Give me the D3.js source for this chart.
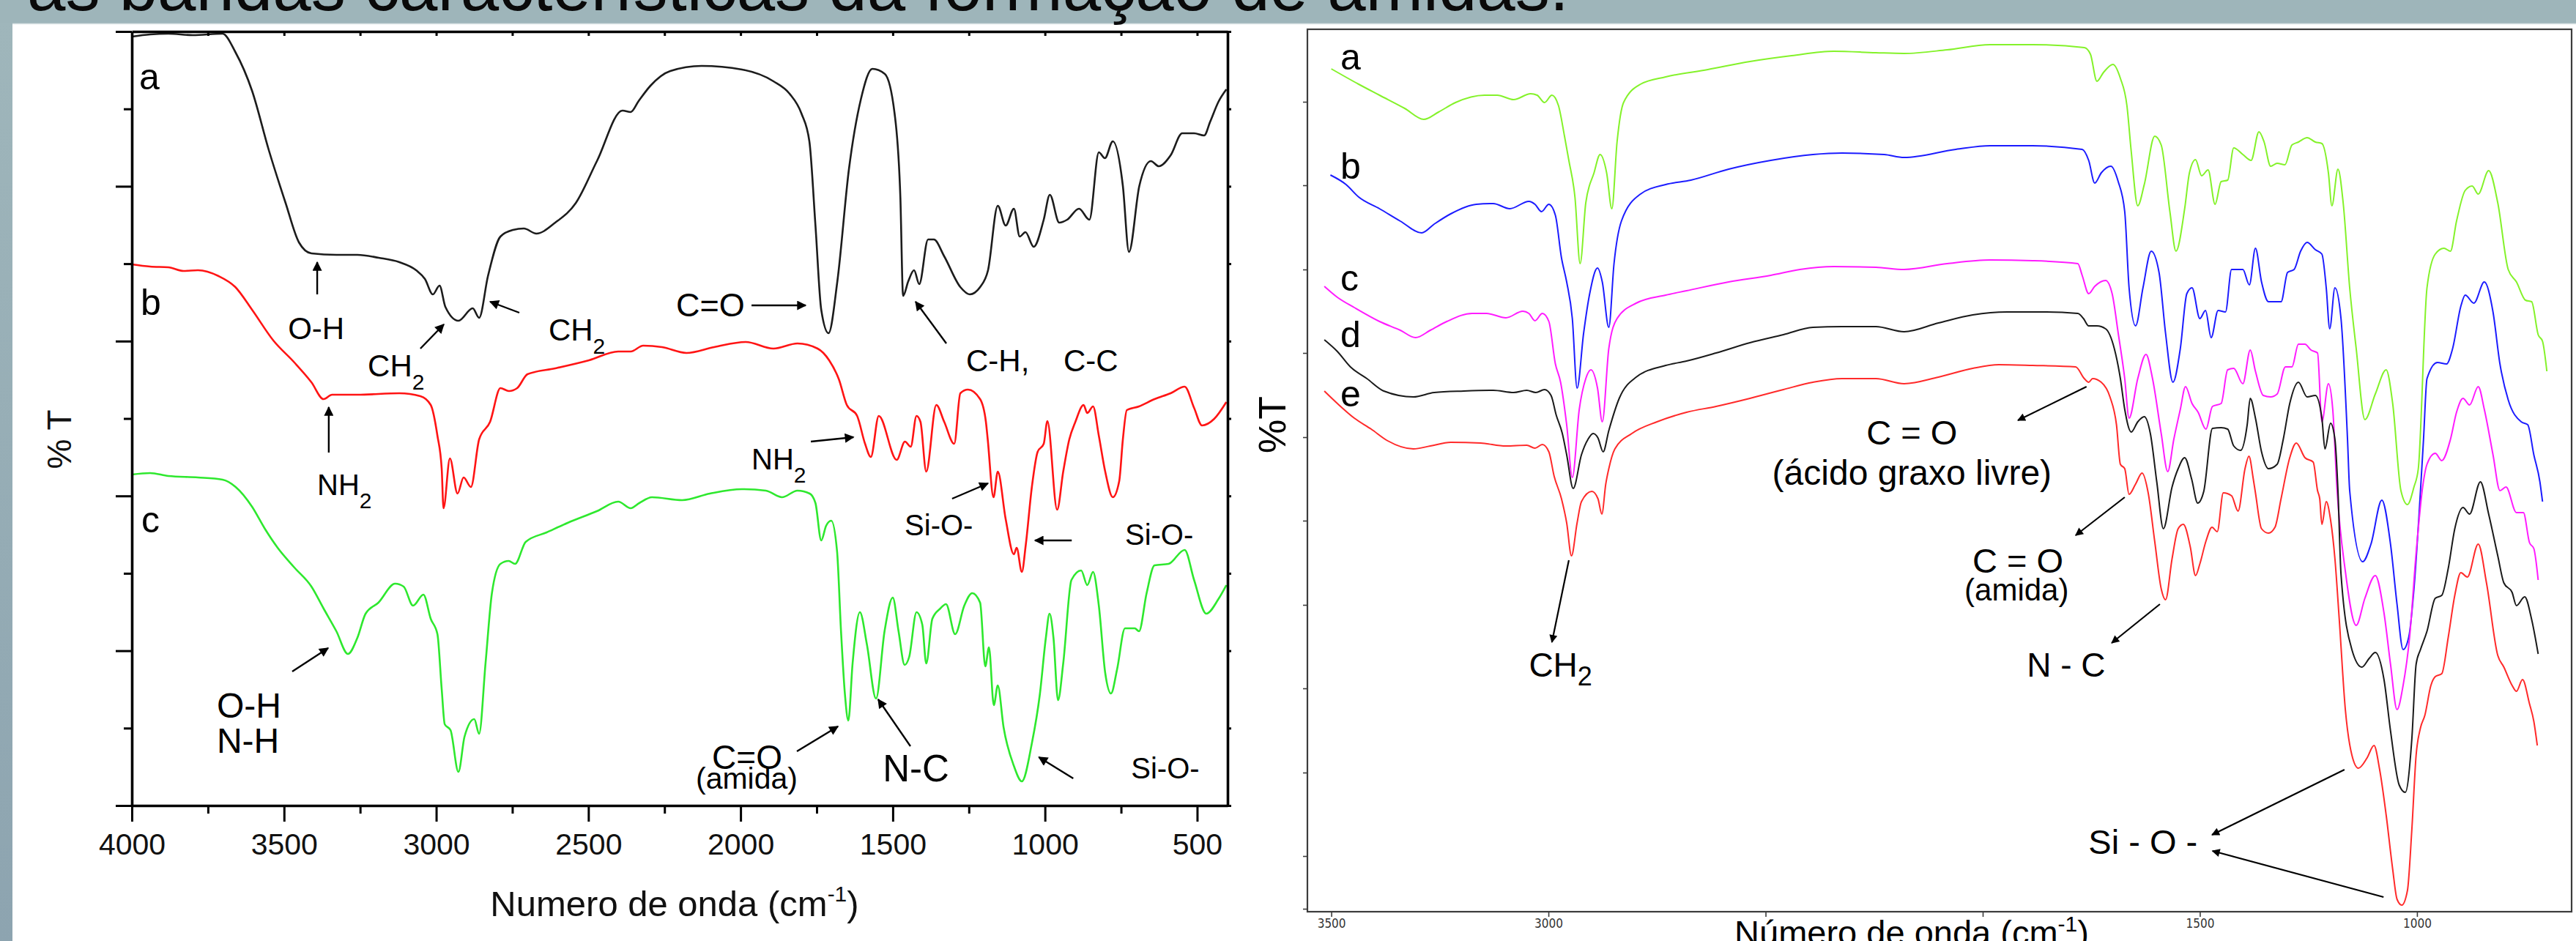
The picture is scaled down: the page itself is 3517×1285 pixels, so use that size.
<!DOCTYPE html>
<html>
<head>
<meta charset="utf-8">
<script src="https://cdn.jsdelivr.net/npm/d3@7"></script>
<style>
html, body { margin: 0; padding: 0; background: #9eb5ba; }
svg { display: block; }
text { font-family: "Liberation Sans", Arial, Helvetica, sans-serif; }
</style>
</head>
<body>
<svg id="fig" width="3517" height="1285" viewBox="0 0 3517 1285"></svg>
<script>
// whole slide
const totalWidth = 3517;
const totalHeight = 1285;

const titleText = "as bandas características da formação de amidas.";

// ---------- left figure (a, b, c) ----------
const leftTickLabels = [4000, 3500, 3000, 2500, 2000, 1500, 1000, 500];
const leftMinorTicks = [3750, 3250, 2750, 2250, 1750, 1250, 750];
const leftTopTicks = [3750, 3500, 3250, 3000, 2750, 2500, 2250, 2000, 1750, 1500, 1250, 1000, 750, 500];
const leftYMajor = [0, 21.14, 42.28, 63.42, 84.56, 105.7];
const leftYMinor = [10.57, 31.71, 52.85, 73.99, 95.13];

// [wavenumber, %T]
const leftA = [[4000,105.0],[3940,105.3],[3880,105.4],[3800,105.2],[3702,105.4],[3660,102.9],[3605,97.6],[3550,89.5],[3495,82.3],[3451,76.9],[3410,75.4],[3328,75.2],[3259,75.2],[3189,74.8],[3121,74.2],[3066,73.1],[3037,71.9],[3011,69.8],[2989,71.0],[2970,68.1],[2927,66.2],[2880,67.9],[2859,66.6],[2830,72.3],[2789,77.7],[2748,78.6],[2712,78.8],[2671,78.1],[2609,79.6],[2541,82.3],[2472,88.0],[2388,94.9],[2361,94.7],[2335,96.2],[2296,98.3],[2231,100.3],[2128,101.0],[1995,100.5],[1892,98.9],[1839,97.2],[1800,94.5],[1774,90.7],[1754,79.2],[1735,67.7],[1711,64.5],[1682,71.6],[1644,86.9],[1605,96.4],[1567,100.6],[1526,99.9],[1494,94.5],[1475,83.0],[1466,69.6],[1449,71.6],[1430,73.1],[1413,71.2],[1384,77.3],[1365,77.3],[1331,75.0],[1278,70.8],[1247,69.8],[1213,70.8],[1187,73.1],[1155,81.9],[1129,79.2],[1102,81.5],[1083,77.7],[1064,78.3],[1037,76.3],[1004,80.0],[984,83.4],[953,79.6],[927,80.0],[888,81.5],[854,80.0],[823,89.2],[803,88.4],[777,90.7],[744,84.6],[724,75.6],[690,84.6],[652,88.0],[626,87.3],[587,88.8],[549,91.8],[510,91.8],[477,91.5],[457,93.4],[430,96.1],[404,97.8]];
const leftB = [[4000,73.9],[3940,73.6],[3880,73.5],[3830,73.0],[3783,73.1],[3715,72.3],[3660,70.8],[3605,67.7],[3535,63.5],[3466,60.5],[3410,57.8],[3370,55.5],[3342,56.1],[3259,56.1],[3121,56.3],[3052,55.9],[3018,54.7],[2996,50.5],[2982,46.0],[2976,40.6],[2955,47.4],[2930,42.6],[2910,44.8],[2886,43.5],[2859,50.0],[2823,52.4],[2789,57.0],[2761,56.6],[2734,57.0],[2700,58.9],[2609,59.7],[2498,60.8],[2402,62.0],[2361,62.0],[2320,62.8],[2258,62.6],[2178,61.8],[2087,62.6],[1983,63.3],[1892,62.4],[1813,63.1],[1747,62.4],[1709,60.8],[1677,58.2],[1651,54.7],[1617,53.2],[1591,49.4],[1572,47.6],[1546,53.2],[1487,47.2],[1460,49.7],[1441,49.0],[1422,53.2],[1409,52.4],[1390,45.6],[1357,54.7],[1331,52.4],[1298,49.4],[1278,56.3],[1253,56.8],[1213,55.5],[1194,52.4],[1188,50.0],[1169,42.1],[1155,45.6],[1129,39.1],[1102,34.3],[1093,35.2],[1076,31.9],[1063,35.6],[1043,43.5],[1024,48.3],[1004,49.4],[992,52.5],[960,40.4],[940,45.6],[920,50.0],[900,52.4],[873,54.7],[861,53.6],[842,54.5],[823,50.5],[802,45.6],[777,42.1],[756,44.3],[744,50.0],[731,54.0],[691,54.5],[640,55.5],[587,56.3],[541,57.2],[510,54.3],[484,51.9],[444,52.8],[404,55.1]];
const leftC = [[4000,45.2],[3940,45.4],[3880,45.0],[3783,44.8],[3702,44.5],[3659,43.5],[3605,40.8],[3563,37.8],[3521,35.2],[3466,32.5],[3410,29.9],[3370,26.9],[3328,23.8],[3290,20.7],[3259,22.9],[3232,26.2],[3190,27.7],[3135,30.3],[3107,29.9],[3076,27.3],[3042,28.8],[3018,25.5],[2996,23.4],[2982,15.9],[2972,11.1],[2953,10.3],[2927,4.6],[2907,9.4],[2875,11.8],[2859,9.8],[2838,19.4],[2817,29.0],[2789,33.0],[2762,33.4],[2741,33.0],[2706,36.0],[2637,37.3],[2568,38.6],[2472,40.2],[2402,41.5],[2361,40.6],[2333,41.3],[2291,42.1],[2192,41.7],[2101,42.6],[1996,43.2],[1917,43.0],[1864,42.1],[1813,43.0],[1773,42.6],[1754,41.3],[1735,36.2],[1719,38.2],[1702,38.9],[1683,34.7],[1670,23.8],[1657,15.1],[1646,11.6],[1632,19.4],[1608,26.4],[1585,22.0],[1555,14.6],[1527,23.8],[1500,28.4],[1481,23.8],[1461,19.2],[1446,20.3],[1422,26.4],[1403,24.7],[1390,19.4],[1370,25.5],[1344,26.9],[1325,27.5],[1295,23.4],[1265,27.3],[1239,29.0],[1213,27.7],[1196,19.0],[1184,21.6],[1168,13.7],[1155,16.4],[1136,10.7],[1102,5.4],[1076,3.3],[1043,8.5],[1017,15.1],[997,22.9],[985,26.2],[972,22.9],[957,14.4],[940,19.4],[913,30.8],[881,32.1],[861,30.1],[842,31.9],[823,27.3],[802,18.1],[783,15.3],[763,18.6],[737,24.2],[705,24.2],[691,23.8],[666,29.0],[640,32.8],[594,33.0],[541,34.9],[510,30.8],[470,26.2],[430,28.2],[404,30.1]];

// labels: position in data units (baseline / start)
const leftLabels = [
    {text: "a", wn: 3976, v: 97.8, size: 50},
    {text: "b", wn: 3971, v: 67.0, size: 50},
    {text: "c", wn: 3969, v: 37.3, size: 50},
    {text: "O-H", wn: 3487, v: 63.7, size: 42},
    {text: "CH", sub: "2", wn: 3225, v: 58.6, size: 42},
    {text: "CH", sub: "2", wn: 2631, v: 63.5, size: 42},
    {text: "NH", sub: "2", wn: 3391, v: 42.4, size: 40},
    {text: "O-H", wn: 3721, v: 12.0, size: 48},
    {text: "N-H", wn: 3721, v: 7.2, size: 48},
    {text: "C=O", wn: 2212, v: 66.8, size: 45},
    {text: "C-H,", wn: 1259, v: 59.3, size: 42},
    {text: "C-C", wn: 939, v: 59.3, size: 42},
    {text: "NH", sub: "2", wn: 1964, v: 45.9, size: 40},
    {text: "Si-O-", wn: 1461, v: 36.9, size: 40},
    {text: "Si-O-", wn: 737, v: 35.6, size: 40},
    {text: "C=O", wn: 2094, v: 5.0, size: 46},
    {text: "(amida)", wn: 2147, v: 2.3, size: 41},
    {text: "N-C", wn: 1533, v: 3.3, size: 51},
    {text: "Si-O-", wn: 717, v: 3.7, size: 40}
];
// arrows [wn from, %T from, wn to, %T to]
const leftArrows = [
    [3391, 69.8, 3391, 74.2],
    [3052, 62.4, 2975, 65.7],
    [2727, 67.3, 2823, 68.8],
    [3353, 48.2, 3353, 54.4],
    [3473, 18.3, 3355, 21.5],
    [1964, 68.3, 1786, 68.3],
    [1324, 63.1, 1425, 68.8],
    [1769, 49.7, 1629, 50.3],
    [1305, 41.9, 1187, 44.0],
    [912, 36.2, 1033, 36.2],
    [1815, 7.4, 1680, 10.8],
    [1442, 8.1, 1548, 14.5],
    [907, 3.7, 1020, 6.6]
];

// ---------- right figure (a..e) ----------
const rightTicks = [3500, 3000, 2500, 2000, 1500, 1000];
const rightTickLabels = [3500, 3000, 1500, 1000]; // 2500 and 2000 sit under the axis title
const rightYTicks = [110.6, 99.2, 87.7, 76.3, 64.8, 53.4, 41.9, 30.5, 19.0, 7.6, 0.4];

const rightA = [[3500,115.1],[3437,113.0],[3389,111.5],[3331,109.7],[3287,108.2],[3253,109.2],[3214,110.5],[3147,111.5],[3118,111.5],[3080,110.9],[3041,111.7],[3026,111.5],[3009,110.5],[2992,111.5],[2977,110.1],[2963,105.9],[2953,102.6],[2939,97.6],[2927,88.5],[2914,96.8],[2895,100.9],[2881,103.4],[2866,100.9],[2854,96.0],[2842,105.1],[2827,110.5],[2788,113.0],[2730,114.0],[2633,115.0],[2536,116.1],[2440,116.9],[2343,117.5],[2246,117.3],[2181,117.2],[2082,117.7],[1983,118.4],[1885,118.4],[1766,118.0],[1752,117.1],[1737,113.4],[1722,114.6],[1700,115.7],[1683,113.8],[1668,110.1],[1658,103.8],[1643,96.4],[1628,99.3],[1604,105.9],[1589,104.7],[1569,95.6],[1555,90.2],[1535,96.0],[1524,100.9],[1510,102.7],[1496,100.5],[1481,101.3],[1465,96.6],[1451,99.7],[1436,99.9],[1422,104.3],[1401,103.4],[1382,102.6],[1364,106.5],[1352,105.1],[1337,101.8],[1322,102.2],[1304,102.0],[1288,104.7],[1273,105.1],[1253,105.7],[1234,105.1],[1219,104.9],[1204,100.9],[1196,96.4],[1182,101.4],[1170,96.8],[1155,85.2],[1140,76.9],[1120,67.2],[1096,70.7],[1071,74.0],[1056,69.4],[1037,57.5],[1022,55.6],[1007,58.0],[997,60.5],[977,85.2],[958,89.8],[938,90.6],[923,90.2],[909,94.3],[889,98.5],[873,99.1],[859,98.0],[835,101.2],[814,96.8],[790,87.7],[771,86.0],[750,83.5],[736,83.3],[721,78.8],[711,77.9],[701,73.8]];
const rightB = [[3502,100.6],[3466,99.3],[3437,97.6],[3389,96.0],[3341,94.3],[3292,92.7],[3263,93.9],[3225,95.3],[3166,96.6],[3127,96.7],[3089,96.0],[3045,97.0],[3031,96.6],[3016,95.6],[2999,96.6],[2984,95.1],[2970,89.3],[2958,86.0],[2945,81.0],[2934,71.5],[2919,79.0],[2905,84.4],[2887,87.9],[2876,86.0],[2861,79.8],[2849,88.5],[2832,94.3],[2788,98.0],[2730,99.3],[2672,99.9],[2585,101.4],[2488,102.6],[2391,103.4],[2324,103.6],[2227,103.4],[2181,103.0],[2062,104.1],[1983,104.6],[1885,104.6],[1771,104.1],[1756,102.6],[1742,99.5],[1727,100.9],[1705,101.8],[1688,99.7],[1673,95.6],[1663,85.2],[1648,80.0],[1631,85.2],[1612,90.2],[1594,87.3],[1579,79.0],[1562,72.3],[1545,76.9],[1530,84.4],[1518,85.2],[1500,81.0],[1487,82.1],[1474,78.4],[1458,82.1],[1441,81.9],[1427,87.7],[1401,87.7],[1386,85.6],[1372,90.6],[1358,86.0],[1342,83.3],[1313,83.3],[1298,87.3],[1283,87.7],[1268,90.2],[1253,91.4],[1234,90.4],[1219,89.8],[1209,85.2],[1201,79.6],[1189,85.2],[1175,81.0],[1160,64.5],[1155,57.5],[1125,47.8],[1106,50.2],[1081,56.2],[1061,50.2],[1046,42.0],[1032,35.8],[1019,37.5],[1007,44.1],[995,54.5],[985,64.5],[977,72.8],[953,75.0],[932,74.8],[918,76.9],[899,82.7],[889,84.2],[869,83.1],[845,86.0],[825,81.9],[809,74.8],[790,69.9],[760,66.9],[745,66.5],[731,62.4],[717,58.7],[711,56.0]];
const rightC = [[3516,85.4],[3486,83.9],[3447,82.5],[3389,80.6],[3341,79.4],[3306,78.4],[3272,79.4],[3234,80.6],[3176,81.7],[3142,81.7],[3098,81.1],[3059,82.0],[3045,81.7],[3031,80.7],[3014,81.7],[2999,80.6],[2984,74.8],[2972,72.3],[2958,66.5],[2945,59.3],[2929,68.6],[2914,72.8],[2902,74.0],[2887,71.5],[2876,66.9],[2861,76.9],[2842,81.0],[2798,83.1],[2730,84.2],[2682,84.8],[2585,86.0],[2488,86.9],[2421,87.7],[2343,88.1],[2246,88.0],[2181,87.7],[2082,88.5],[1983,89.0],[1885,88.9],[1781,88.5],[1771,86.9],[1756,84.4],[1742,85.4],[1717,86.2],[1702,84.4],[1688,79.0],[1673,72.8],[1663,67.4],[1643,72.8],[1624,76.1],[1609,72.8],[1589,65.3],[1574,60.1],[1560,64.5],[1545,68.6],[1533,71.7],[1518,69.4],[1504,68.2],[1486,65.9],[1471,69.0],[1451,69.4],[1436,74.0],[1422,74.2],[1401,72.1],[1384,76.7],[1372,73.8],[1354,70.5],[1337,70.3],[1322,70.7],[1303,74.4],[1288,74.4],[1273,77.5],[1258,77.5],[1244,76.7],[1229,76.3],[1219,66.9],[1204,72.1],[1194,68.6],[1184,57.5],[1165,46.5],[1140,39.1],[1120,42.8],[1096,45.9],[1076,40.8],[1061,33.8],[1046,27.6],[1032,30.9],[1017,37.5],[1002,49.0],[987,58.0],[977,61.1],[958,62.6],[943,61.6],[923,64.5],[909,68.2],[894,70.1],[879,69.2],[859,71.7],[845,68.6],[825,62.4],[809,57.5],[795,58.0],[771,54.5],[755,54.5],[741,50.4],[731,49.6],[721,45.3]];
const rightD = [[3516,78.1],[3486,76.5],[3456,74.4],[3418,72.8],[3379,71.1],[3311,70.3],[3263,70.9],[3195,71.1],[3127,71.2],[3080,70.9],[3050,71.2],[3029,70.9],[3009,71.3],[2994,70.5],[2982,67.8],[2968,65.3],[2958,62.4],[2943,57.8],[2924,62.4],[2909,64.5],[2897,65.3],[2886,64.7],[2874,62.8],[2861,65.7],[2837,70.1],[2798,73.0],[2730,74.6],[2682,75.2],[2614,76.3],[2536,77.7],[2459,78.8],[2391,79.8],[2324,79.9],[2246,79.9],[2181,79.2],[2102,80.4],[2023,81.5],[1944,81.9],[1865,81.9],[1781,81.7],[1768,81.0],[1756,80.0],[1737,80.0],[1717,79.6],[1697,76.9],[1683,72.8],[1673,68.6],[1658,65.5],[1643,66.9],[1628,67.6],[1614,65.3],[1599,58.6],[1584,52.3],[1564,58.0],[1550,60.5],[1535,62.0],[1519,59.1],[1505,55.8],[1491,57.4],[1471,66.0],[1451,66.1],[1436,65.9],[1422,63.6],[1406,63.0],[1391,66.5],[1384,70.1],[1372,67.4],[1358,62.8],[1342,60.5],[1322,61.1],[1308,64.5],[1293,69.4],[1273,72.3],[1253,70.3],[1234,70.5],[1219,67.4],[1212,63.2],[1199,66.7],[1189,64.5],[1182,57.5],[1175,46.1],[1150,35.8],[1127,33.4],[1110,34.6],[1096,35.4],[1076,31.7],[1061,24.7],[1041,17.3],[1027,16.3],[1012,23.5],[1002,33.8],[992,35.8],[977,38.3],[958,42.8],[943,43.2],[928,46.9],[913,52.3],[894,55.2],[879,54.3],[854,58.7],[835,54.3],[814,48.6],[800,44.9],[781,43.6],[771,41.8],[752,43.0],[736,39.9],[721,35.2]];
const rightE = [[3516,71.1],[3486,69.4],[3447,67.4],[3408,65.9],[3370,64.3],[3311,63.2],[3272,63.6],[3225,64.1],[3156,64.0],[3098,63.6],[3050,63.7],[3031,63.3],[3014,63.8],[2999,62.8],[2987,59.5],[2970,56.4],[2958,53.1],[2947,48.6],[2934,53.1],[2924,56.0],[2900,57.4],[2886,56.4],[2877,54.3],[2868,58.4],[2861,60.5],[2847,63.2],[2808,65.3],[2750,66.9],[2682,68.2],[2614,69.0],[2536,70.1],[2459,71.3],[2391,72.3],[2324,72.8],[2246,72.8],[2181,72.1],[2102,73.0],[2023,74.2],[1963,74.7],[1885,74.6],[1786,74.4],[1766,72.8],[1756,72.3],[1747,72.8],[1727,72.3],[1707,70.3],[1692,66.5],[1683,61.1],[1673,60.5],[1663,57.0],[1648,58.4],[1633,59.9],[1619,57.2],[1604,50.6],[1589,44.1],[1579,42.6],[1564,48.2],[1550,52.3],[1538,52.9],[1522,49.8],[1510,45.9],[1500,47.5],[1486,50.6],[1472,52.5],[1460,51.9],[1446,57.2],[1427,56.8],[1412,54.7],[1396,60.5],[1387,62.2],[1377,59.1],[1372,57.2],[1358,52.3],[1342,51.7],[1327,52.5],[1313,56.4],[1293,62.0],[1278,64.0],[1258,62.0],[1239,61.4],[1229,57.5],[1224,56.4],[1219,52.9],[1209,56.0],[1199,53.5],[1189,48.2],[1179,39.9],[1165,27.6],[1150,21.4],[1135,19.6],[1115,21.0],[1099,22.7],[1086,19.4],[1071,13.2],[1056,5.8],[1046,1.7],[1035,0.9],[1022,2.9],[1012,11.1],[1002,21.4],[992,25.1],[982,26.8],[968,30.9],[958,32.1],[943,32.5],[928,37.5],[913,43.2],[899,46.3],[884,45.7],[859,50.2],[840,44.9],[814,35.0],[800,33.4],[781,30.9],[771,30.1],[757,31.7],[741,28.4],[731,26.0],[723,22.7]];

const rightLabels = [
    {text: "a", wn: 3479, v: 115.0, size: 50},
    {text: "b", wn: 3479, v: 100.1, size: 50},
    {text: "c", wn: 3479, v: 84.8, size: 50},
    {text: "d", wn: 3479, v: 77.1, size: 50},
    {text: "e", wn: 3479, v: 69.0, size: 50},
    {text: "CH", sub: "2", wn: 3045, v: 32.1, size: 46},
    {text: "C = O", wn: 2163, v: 63.8, size: 47, anchor: "middle"},
    {text: "(ácido graxo livre)", wn: 2163, v: 58.3, size: 48, anchor: "middle"},
    {text: "C = O", wn: 1919, v: 46.3, size: 47, anchor: "middle"},
    {text: "(amida)", wn: 1922, v: 42.5, size: 42, anchor: "middle"},
    {text: "N - C", wn: 1808, v: 32.1, size: 46, anchor: "middle"},
    {text: "Si - O -", wn: 1631, v: 7.9, size: 47, anchor: "middle"}
];
const rightArrows = [
    [2953, 48.0, 2992, 36.8],
    [1761, 71.7, 1919, 67.1],
    [1673, 56.6, 1786, 51.4],
    [1592, 42.0, 1703, 36.7],
    [1167, 19.4, 1472, 10.5],
    [1077, 2.0, 1471, 8.3]
];

let svg = d3.select("#fig");

function drawBackground() {
    let defs = svg.append("defs");
    let grad = defs.append("linearGradient").attr("id", "strip")
        .attr("x1", 0).attr("y1", 0).attr("x2", 0).attr("y2", 1);
    grad.append("stop").attr("offset", "0%").attr("stop-color", "#9fb6bb");
    grad.append("stop").attr("offset", "100%").attr("stop-color", "#8da4b0");

    // arrow heads, one for each panel
    [["headL", 20, 13], ["headR", 17, 11]].forEach(h => {
        defs.append("marker")
            .attr("id", h[0])
            .attr("viewBox", "0 0 10 10")
            .attr("refX", 9).attr("refY", 5)
            .attr("markerUnits", "userSpaceOnUse")
            .attr("markerWidth", h[1]).attr("markerHeight", h[2])
            .attr("orient", "auto")
            .append("path").attr("d", "M0,0 L10,5 L0,10 Z").attr("fill", "#000");
    });

    svg.append("rect").attr("width", totalWidth).attr("height", totalHeight).attr("fill", "#9eb5ba");
    svg.append("rect").attr("x", 0).attr("y", 32).attr("width", 17).attr("height", totalHeight - 32)
        .attr("fill", "url(#strip)");
    svg.append("rect").attr("x", 17).attr("y", 32).attr("width", totalWidth - 17).attr("height", totalHeight - 32)
        .attr("fill", "#fff");
    svg.append("line").attr("x1", 17).attr("x2", totalWidth).attr("y1", 32.5).attr("y2", 32.5)
        .attr("stroke", "#d8e2e4").attr("stroke-width", 1.5);

    // title, mostly cut off by the top of the picture
    svg.append("text")
        .attr("x", 37).attr("y", 14)
        .attr("font-size", 96)
        .attr("textLength", 2105).attr("lengthAdjust", "spacingAndGlyphs")
        .attr("fill", "#0a0a0a")
        .text(titleText);
}

function drawLabels(g, xs, ys, labels, subSize, subShift) {
    labels.forEach(l => {
        let t = g.append("text")
            .attr("x", xs(l.wn)).attr("y", ys(l.v))
            .attr("font-size", l.size)
            .attr("text-anchor", l.anchor || "start")
            .attr("fill", "#000");
        t.append("tspan").text(l.text);
        if (l.sub) {
            t.append("tspan").attr("dy", subShift).attr("font-size", subSize).text(l.sub);
        }
    });
}

function drawArrows(g, xs, ys, arrows, width, head) {
    g.selectAll(".arrow").data(arrows).enter().append("line")
        .attr("class", "arrow")
        .attr("x1", d => xs(d[0])).attr("y1", d => ys(d[1]))
        .attr("x2", d => xs(d[2])).attr("y2", d => ys(d[3]))
        .attr("stroke", "#000").attr("stroke-width", width)
        .attr("marker-end", "url(#" + head + ")");
}

function drawSpectrum(g, xs, ys, data, color, width) {
    let line = d3.line()
        .x(d => xs(d[0]))
        .y(d => ys(d[1]))
        .curve(d3.curveMonotoneX);
    g.append("path")
        .datum(data)
        .attr("d", line)
        .attr("fill", "none")
        .attr("stroke", color)
        .attr("stroke-width", width)
        .attr("stroke-linejoin", "round");
}

function leftChart() {
    let xScale = d3.scaleLinear([4000, 400], [180, 1676]);
    let yScale = d3.scaleLinear([0, 105.7], [1100, 43]);
    let g = svg.append("g");

    drawSpectrum(g, xScale, yScale, leftA, "#1c1c1c", 2.6);
    drawSpectrum(g, xScale, yScale, leftB, "#ff1414", 2.6);
    drawSpectrum(g, xScale, yScale, leftC, "#2ee82e", 2.6);

    // bottom axis with labels
    let bottom = g.append("g").attr("transform", `translate(0,${yScale(0)})`)
        .call(d3.axisBottom(xScale).tickValues(leftTickLabels).tickSize(22).tickPadding(16)
            .tickSizeOuter(0).tickFormat(d3.format("d")));
    bottom.selectAll("text").attr("font-size", 41).attr("fill", "#111")
        .style("font-family", "'Liberation Sans', Arial, sans-serif");
    g.append("g").attr("transform", `translate(0,${yScale(0)})`)
        .call(d3.axisBottom(xScale).tickValues(leftMinorTicks).tickSize(11).tickFormat(""))
        .select(".domain").remove();

    // top frame
    g.append("g").attr("transform", `translate(0,${yScale(105.7)})`)
        .call(d3.axisTop(xScale).tickValues(leftTopTicks).tickSize(-6).tickFormat("").tickSizeOuter(0));

    // left axis: no numbers
    g.append("g").attr("transform", `translate(${xScale(4000)},0)`)
        .call(d3.axisLeft(yScale).tickValues(leftYMajor).tickSize(22).tickFormat("").tickSizeOuter(0));
    g.append("g").attr("transform", `translate(${xScale(4000)},0)`)
        .call(d3.axisLeft(yScale).tickValues(leftYMinor).tickSize(11).tickFormat(""))
        .select(".domain").remove();

    // right frame
    g.append("g").attr("transform", `translate(${xScale(400)},0)`)
        .call(d3.axisRight(yScale).tickValues(leftYMajor.concat(leftYMinor)).tickSize(5).tickFormat("").tickSizeOuter(0));

    g.selectAll(".domain").attr("stroke", "#000").attr("stroke-width", 3.6);
    g.selectAll(".tick line").attr("stroke", "#000").attr("stroke-width", 3);

    drawLabels(g, xScale, yScale, leftLabels, 30, 18);
    drawArrows(g, xScale, yScale, leftArrows, 2.4, "headL");

    // axis titles
    let xt = g.append("text").attr("x", 921).attr("y", 1251)
        .attr("text-anchor", "middle").attr("font-size", 49).attr("fill", "#111");
    xt.append("tspan").text("Numero de onda (cm");
    xt.append("tspan").attr("dy", -20).attr("font-size", 30).text("-1");
    xt.append("tspan").attr("dy", 20).text(")");

    g.append("text")
        .attr("transform", "translate(97,600) rotate(-90)")
        .attr("text-anchor", "middle").attr("font-size", 46).attr("fill", "#111")
        .text("% T");
}

function rightChart() {
    let xScale = d3.scaleLinear([3555, 644], [1785, 3511]);
    let yScale = d3.scaleLinear([0, 120.5], [1245, 40]);
    let g = svg.append("g");

    drawSpectrum(g, xScale, yScale, rightA, "#84f22a", 2);
    drawSpectrum(g, xScale, yScale, rightB, "#1c1cff", 2);
    drawSpectrum(g, xScale, yScale, rightC, "#ff1cff", 2);
    drawSpectrum(g, xScale, yScale, rightD, "#1a1a1a", 2);
    drawSpectrum(g, xScale, yScale, rightE, "#ff2a2a", 2);

    // frame
    g.append("rect")
        .attr("x", xScale(3555)).attr("y", yScale(120.5))
        .attr("width", xScale(644) - xScale(3555)).attr("height", yScale(0) - yScale(120.5))
        .attr("fill", "none").attr("stroke", "#3c3c3c").attr("stroke-width", 2.2);

    let bottom = g.append("g").attr("transform", `translate(0,${yScale(0)})`)
        .call(d3.axisBottom(xScale).tickValues(rightTicks).tickSize(7).tickPadding(3)
            .tickFormat(d => rightTickLabels.includes(d) ? d3.format("d")(d) : ""));
    bottom.select(".domain").remove();
    bottom.selectAll("text").attr("font-size", 17).attr("fill", "#333")
        .style("font-family", "'DejaVu Sans Condensed', 'Liberation Sans Narrow', sans-serif");

    g.append("g").attr("transform", `translate(${xScale(3555)},0)`)
        .call(d3.axisLeft(yScale).tickValues(rightYTicks).tickSize(6).tickFormat(""))
        .select(".domain").remove();
    g.selectAll(".tick line").attr("stroke", "#3c3c3c").attr("stroke-width", 1.6);

    drawLabels(g, xScale, yScale, rightLabels, 36, 12);
    drawArrows(g, xScale, yScale, rightArrows, 2.2, "headR");

    let xt = g.append("text").attr("x", 2610).attr("y", 1290)
        .attr("text-anchor", "middle").attr("font-size", 47).attr("fill", "#000");
    xt.append("tspan").text("Número de onda (cm");
    xt.append("tspan").attr("dy", -18).attr("font-size", 30).text("-1");
    xt.append("tspan").attr("dy", 18).text(")");

    g.append("text")
        .attr("transform", "translate(1755,580) rotate(-90)")
        .attr("text-anchor", "middle").attr("font-size", 52).attr("fill", "#000")
        .text("%T");
}

drawBackground();
leftChart();
rightChart();
</script>
</body>
</html>
